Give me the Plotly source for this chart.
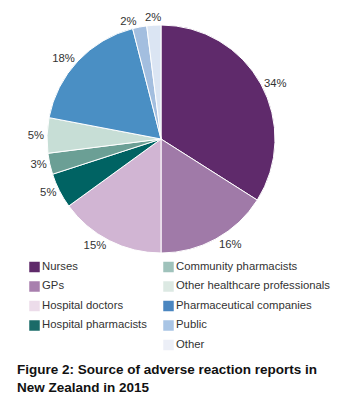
import math
import plotly.graph_objects as go

# Source of adverse reaction reports, New Zealand 2015 (percent of reports)
sources = [
    "Nurses", "GPs", "Hospital doctors", "Hospital pharmacists",
    "Community pharmacists", "Other healthcare professionals",
    "Pharmaceutical companies", "Public", "Other",
]
shares = [34, 16, 15, 5, 3, 5, 18, 2, 2]
slice_colors = [
    "#5f2a6b", "#a07aa8", "#d1b5d3", "#006363",
    "#6b9f95", "#c7ded6", "#4a8fc4", "#a3bedf", "#dbe5f3",
]
key_colors = [
    "#5f2a6a", "#a87fae", "#ecdcea", "#1a6b68",
    "#9fc2bb", "#dce9e3", "#4a86c0", "#a9c5e5", "#eceff7",
]
left_column = 4  # first four sources go in the left key column

W, H = 349, 409
FONT = "Liberation Sans, Arial, sans-serif"
TEXT = "#333333"

# Pie geometry in pixels
cx, cy, R = 161, 139, 114

# The last thin slice gets its label set beside its neighbour rather than
# stacked above it with a leader line.
slice_text = [f"{v}%" for v in shares]
slice_text[-1] = ""

fig = go.Figure()

fig.add_trace(go.Pie(
    labels=sources,
    values=shares,
    text=slice_text,
    sort=False,
    direction="clockwise",
    rotation=0,
    marker=dict(colors=slice_colors, line=dict(color="white", width=1)),
    textinfo="text",
    textposition="outside",
    textfont=dict(family=FONT, size=11.3, color=TEXT),
    showlegend=False,
    hoverinfo="label+percent",
    domain=dict(x=[(cx - R) / W, (cx + R) / W], y=[(H - cy - R) / H, (H - cy + R) / H]),
))

# Label for the final slice, at its mid-angle just outside the rim
before = sum(shares[:-1])
mid = (before + shares[-1] / 2) / sum(shares) * 2 * math.pi
lx = cx + (R + 8) * math.sin(mid)
ly = cy - (R + 8) * math.cos(mid)

# Colour key: square swatches with names, in two columns
key_x = [34.5 if i < left_column else 168.5 for i in range(len(sources))]
key_y = [267 + 19.5 * (i if i < left_column else i - left_column) for i in range(len(sources))]
fig.add_trace(go.Scatter(
    x=key_x, y=key_y, mode="markers+text",
    text=sources, textposition="middle right",
    textfont=dict(family=FONT, size=11.3, color=TEXT),
    marker=dict(symbol="square", size=10.5, color=key_colors, line=dict(width=0)),
    hoverinfo="skip", showlegend=False, cliponaxis=False,
))

fig.update_layout(
    width=W, height=H,
    margin=dict(l=0, r=0, t=0, b=0),
    paper_bgcolor="white", plot_bgcolor="rgba(0,0,0,0)",
    xaxis=dict(visible=False, range=[0, W], domain=[0, 1], fixedrange=True),
    yaxis=dict(visible=False, range=[H, 0], domain=[0, 1], fixedrange=True),
    showlegend=False,
    annotations=[
        dict(
            text=f"{shares[-1]}%", x=lx, y=ly, xref="x", yref="y",
            xanchor="center", yanchor="middle", showarrow=False,
            font=dict(family=FONT, size=11.3, color=TEXT),
        ),
        dict(
            text="<b>Figure 2: Source of adverse reaction reports in<br>New Zealand in 2015</b>",
            xref="paper", yref="paper", x=15 / W, y=(H - 360) / H,
            xanchor="left", yanchor="top", align="left", showarrow=False,
            font=dict(family=FONT, size=13.5, color="#111111"),
        ),
    ],
)

fig.write_html("out.html")
